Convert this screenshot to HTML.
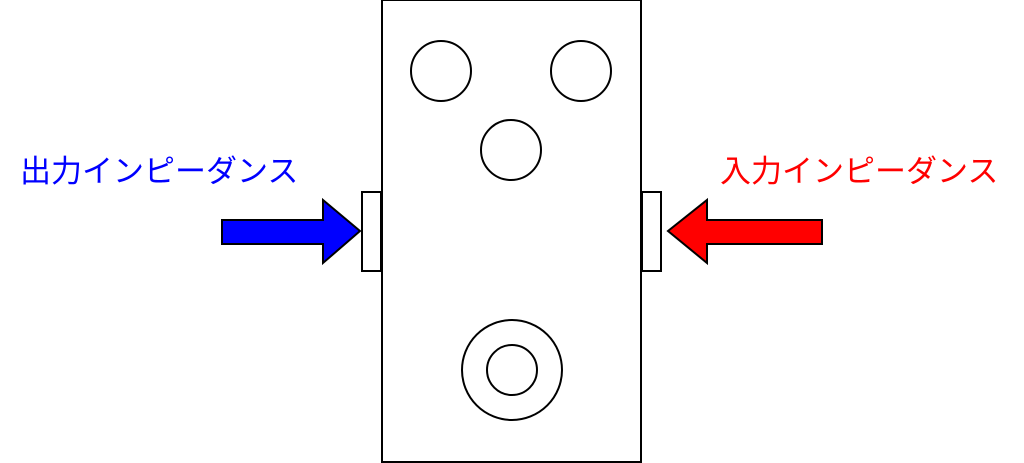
<!DOCTYPE html>
<html><head><meta charset="utf-8"><style>
html,body{margin:0;padding:0;background:#fff;}
body{width:1024px;height:463px;overflow:hidden;position:relative;}
.t{position:absolute;top:152px;font:31px "Liberation Sans","Noto Sans CJK JP",sans-serif;line-height:40px;white-space:nowrap;letter-spacing:0px;}
</style></head><body>
<svg width="1024" height="463" style="position:absolute;left:0;top:0" fill="none" stroke="#000" stroke-width="2">
<rect x="382" y="0" width="259" height="462" fill="#fff"/>
<rect x="362" y="192" width="19" height="79" fill="#fff"/>
<rect x="642" y="192" width="19" height="79" fill="#fff"/>
<circle cx="441" cy="71" r="30"/>
<circle cx="581" cy="71" r="30"/>
<circle cx="511" cy="150" r="30"/>
<circle cx="512" cy="370" r="50"/>
<circle cx="512" cy="370" r="25"/>
<polygon points="222,220 323,220 323,200 360,231 323,263 323,244 222,244" fill="#0000ff"/>
<polygon points="822,220 707,220 707,200 668,231 707,263 707,244 822,244" fill="#ff0000"/>
</svg>
<div class="t" style="left:20px;color:#0000ff">出力インピーダンス</div>
<div class="t" style="left:720px;color:#ff0000">入力インピーダンス</div>
</body></html>
